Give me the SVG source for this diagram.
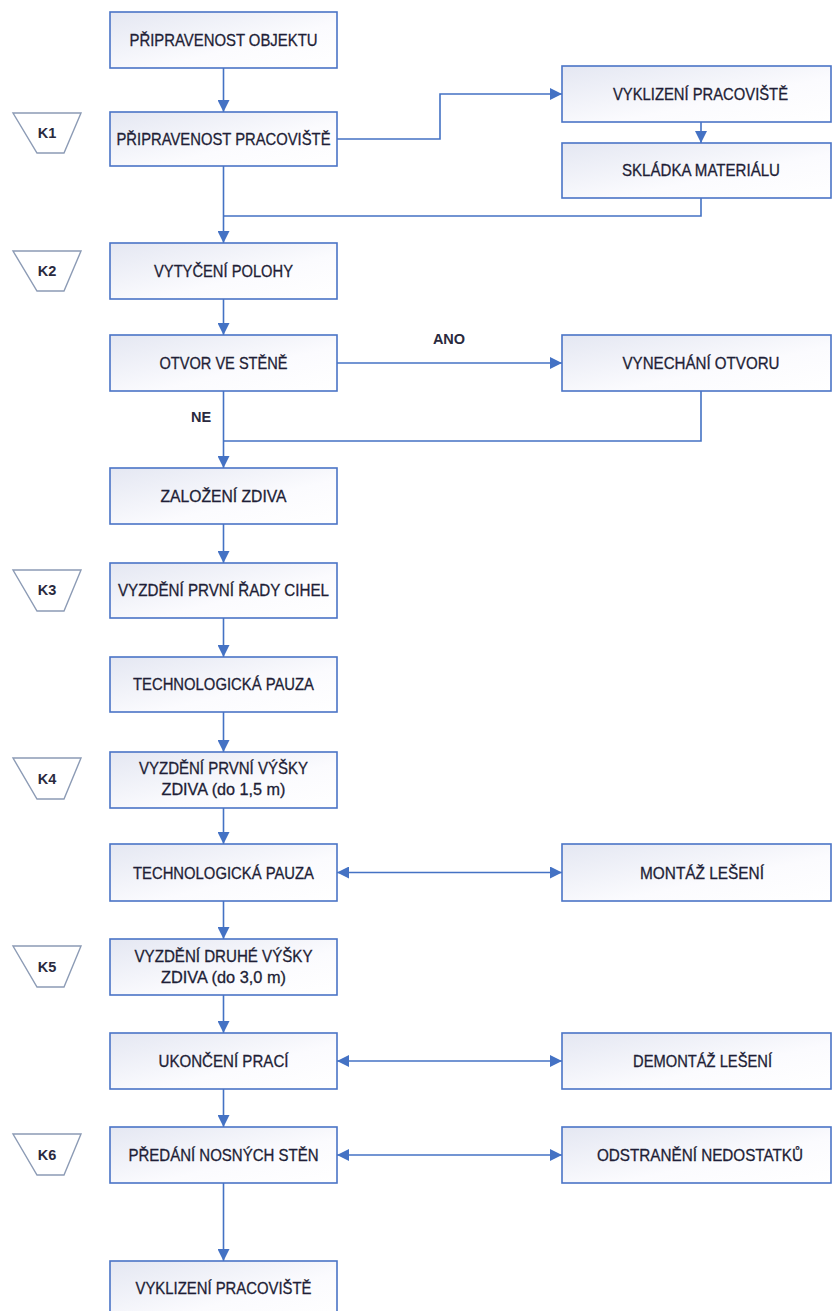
<svg xmlns="http://www.w3.org/2000/svg" width="832" height="1311" viewBox="0 0 832 1311">
<defs>
<linearGradient id="bf" x1="0" y1="0" x2="1" y2="1">
<stop offset="0" stop-color="#e4e7f2"/>
<stop offset="0.6" stop-color="#fbfbfe"/>
<stop offset="1" stop-color="#ffffff"/>
</linearGradient>
<marker id="ah" viewBox="0 0 10 10" refX="10" refY="5" markerWidth="12" markerHeight="12" markerUnits="userSpaceOnUse" orient="auto-start-reverse">
<path d="M0,0 L10,5 L0,10 z" fill="#4472c4"/>
</marker>
<style>
.box{fill:url(#bf);stroke:#4a74c6;stroke-width:1.6}
.tz{fill:#ffffff;stroke:#8c9bb5;stroke-width:1.4}
.t{font-family:"Liberation Sans Narrow","Liberation Sans",Arial,sans-serif;font-size:16.5px;fill:#1e1e36;stroke:#1e1e36;stroke-width:0.3;text-anchor:middle}
.k{font-family:"Liberation Sans",Arial,sans-serif;font-size:14.5px;font-weight:bold;fill:#2a2a3e;text-anchor:middle}
.c{fill:none;stroke:#4472c4;stroke-width:1.6}
.a{marker-end:url(#ah)}
.b{marker-start:url(#ah);marker-end:url(#ah)}
</style>
</defs>

<g id="connectors">
<path class="c a" d="M223.5,68 V112"/>
<path class="c a" d="M337,139 H440 V94 H562"/>
<path class="c a" d="M701,122 V143"/>
<path class="c" d="M701,198 V216 H223.5"/>
<path class="c a" d="M223.5,166 V243"/>
<path class="c a" d="M223.5,299 V335"/>
<path class="c a" d="M337,363 H562"/>
<path class="c" d="M701,391 V441 H223.5"/>
<path class="c a" d="M223.5,391 V468"/>
<path class="c a" d="M223.5,524 V563"/>
<path class="c a" d="M223.5,618 V657"/>
<path class="c a" d="M223.5,712 V752"/>
<path class="c a" d="M223.5,808 V844"/>
<path class="c b" d="M337,872.5 H562"/>
<path class="c a" d="M223.5,901 V939"/>
<path class="c a" d="M223.5,995 V1033"/>
<path class="c b" d="M337,1061 H562"/>
<path class="c a" d="M223.5,1089 V1127"/>
<path class="c b" d="M337,1155 H562"/>
<path class="c a" d="M223.5,1183 V1261"/>
<text class="k" x="449" y="344">ANO</text>
<text class="k" x="201" y="422">NE</text>
</g>

<g id="n1"><rect class="box" x="110" y="12" width="227" height="56"/><text class="t" x="223.5" y="46" textLength="188" lengthAdjust="spacingAndGlyphs">PŘIPRAVENOST OBJEKTU</text></g>
<g id="n2"><rect class="box" x="110" y="112" width="227" height="54"/><text class="t" x="223.5" y="145" textLength="214" lengthAdjust="spacingAndGlyphs">PŘIPRAVENOST PRACOVIŠTĚ</text></g>
<g id="n3"><rect class="box" x="110" y="243" width="227" height="56"/><text class="t" x="223.5" y="277" textLength="139" lengthAdjust="spacingAndGlyphs">VYTYČENÍ POLOHY</text></g>
<g id="n4"><rect class="box" x="110" y="335" width="227" height="56"/><text class="t" x="223.5" y="369" textLength="128" lengthAdjust="spacingAndGlyphs">OTVOR VE STĚNĚ</text></g>
<g id="n5"><rect class="box" x="110" y="468" width="227" height="56"/><text class="t" x="223.5" y="502" textLength="126" lengthAdjust="spacingAndGlyphs">ZALOŽENÍ ZDIVA</text></g>
<g id="n6"><rect class="box" x="110" y="563" width="227" height="55"/><text class="t" x="223.5" y="596" textLength="211" lengthAdjust="spacingAndGlyphs">VYZDĚNÍ PRVNÍ ŘADY CIHEL</text></g>
<g id="n7"><rect class="box" x="110" y="657" width="227" height="55"/><text class="t" x="223.5" y="690" textLength="181" lengthAdjust="spacingAndGlyphs">TECHNOLOGICKÁ PAUZA</text></g>
<g id="n8"><rect class="box" x="110" y="752" width="227" height="56"/><text class="t" x="223.5" y="774" textLength="169" lengthAdjust="spacingAndGlyphs">VYZDĚNÍ PRVNÍ VÝŠKY</text><text class="t" x="223.5" y="795" textLength="124" lengthAdjust="spacingAndGlyphs">ZDIVA (do 1,5 m)</text></g>
<g id="n9"><rect class="box" x="110" y="844" width="227" height="57"/><text class="t" x="223.5" y="878.5" textLength="181" lengthAdjust="spacingAndGlyphs">TECHNOLOGICKÁ PAUZA</text></g>
<g id="n10"><rect class="box" x="110" y="939" width="227" height="56"/><text class="t" x="223.5" y="962" textLength="178" lengthAdjust="spacingAndGlyphs">VYZDĚNÍ DRUHÉ VÝŠKY</text><text class="t" x="223.5" y="983" textLength="125" lengthAdjust="spacingAndGlyphs">ZDIVA (do 3,0 m)</text></g>
<g id="n11"><rect class="box" x="110" y="1033" width="227" height="56"/><text class="t" x="223.5" y="1067" textLength="130" lengthAdjust="spacingAndGlyphs">UKONČENÍ PRACÍ</text></g>
<g id="n12"><rect class="box" x="110" y="1127" width="227" height="56"/><text class="t" x="223.5" y="1161" textLength="190" lengthAdjust="spacingAndGlyphs">PŘEDÁNÍ NOSNÝCH STĚN</text></g>
<g id="n13"><rect class="box" x="110" y="1261" width="227" height="60"/><text class="t" x="223.5" y="1294" textLength="176" lengthAdjust="spacingAndGlyphs">VYKLIZENÍ PRACOVIŠTĚ</text></g>

<g id="r1"><rect class="box" x="562" y="66" width="269" height="56"/><text class="t" x="700.5" y="100" textLength="175" lengthAdjust="spacingAndGlyphs">VYKLIZENÍ PRACOVIŠTĚ</text></g>
<g id="r2"><rect class="box" x="562" y="143" width="269" height="55"/><text class="t" x="701" y="176" textLength="158" lengthAdjust="spacingAndGlyphs">SKLÁDKA MATERIÁLU</text></g>
<g id="r3"><rect class="box" x="562" y="335" width="269" height="56"/><text class="t" x="701" y="369" textLength="157" lengthAdjust="spacingAndGlyphs">VYNECHÁNÍ OTVORU</text></g>
<g id="r4"><rect class="box" x="562" y="844" width="269" height="57"/><text class="t" x="702" y="878.5" textLength="124" lengthAdjust="spacingAndGlyphs">MONTÁŽ LEŠENÍ</text></g>
<g id="r5"><rect class="box" x="562" y="1033" width="269" height="56"/><text class="t" x="702.5" y="1067" textLength="139" lengthAdjust="spacingAndGlyphs">DEMONTÁŽ LEŠENÍ</text></g>
<g id="r6"><rect class="box" x="562" y="1127" width="269" height="56"/><text class="t" x="700" y="1161" textLength="206" lengthAdjust="spacingAndGlyphs">ODSTRANĚNÍ NEDOSTATKŮ</text></g>

<g id="k1"><polygon class="tz" points="13,113 81,113 64,153 37,153"/><text class="k" x="47" y="138">K1</text></g>
<g id="k2"><polygon class="tz" points="13,251 81,251 64,291 37,291"/><text class="k" x="47" y="276">K2</text></g>
<g id="k3"><polygon class="tz" points="13,570 81,570 64,611 37,611"/><text class="k" x="47" y="595">K3</text></g>
<g id="k4"><polygon class="tz" points="13,758 81,758 64,799 37,799"/><text class="k" x="47" y="784">K4</text></g>
<g id="k5"><polygon class="tz" points="13,946 81,946 64,987 37,987"/><text class="k" x="47" y="972">K5</text></g>
<g id="k6"><polygon class="tz" points="13,1134 81,1134 64,1175 37,1175"/><text class="k" x="47" y="1160">K6</text></g>
</svg>
